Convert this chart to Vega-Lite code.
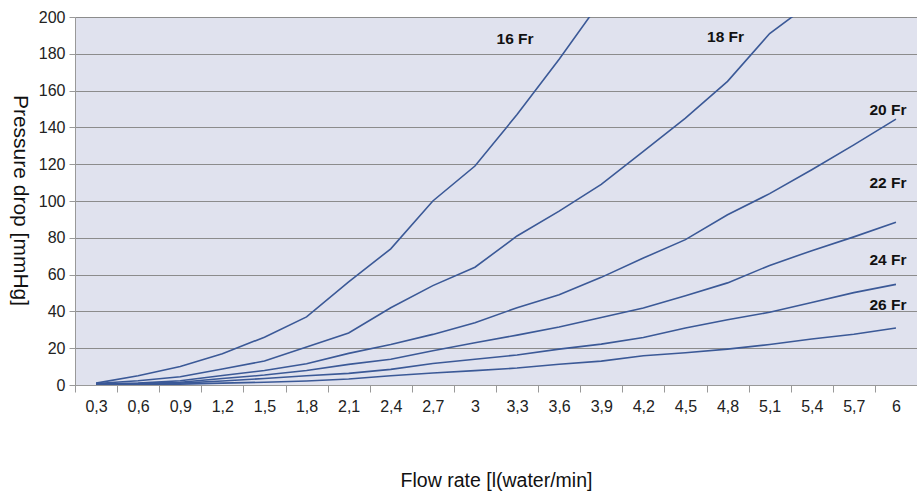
{
  "$schema": "https://vega.github.io/schema/vega-lite/v6.json",
  "autosize": "none",
  "width": 842,
  "height": 368,
  "padding": {"left": 75, "top": 17, "right": 0, "bottom": 108},
  "background": "#ffffff",
  "config": {
    "font": "Liberation Sans",
    "view": {"fill": "#e0e2ee", "stroke": null}
  },
  "datasets": {
    "curves": [
      {"flow": 0.3, "fr": "16 Fr", "p": 1}, {"flow": 0.6, "fr": "16 Fr", "p": 5}, {"flow": 0.9, "fr": "16 Fr", "p": 10}, {"flow": 1.2, "fr": "16 Fr", "p": 17}, {"flow": 1.5, "fr": "16 Fr", "p": 26}, {"flow": 1.8, "fr": "16 Fr", "p": 37}, {"flow": 2.1, "fr": "16 Fr", "p": 56}, {"flow": 2.4, "fr": "16 Fr", "p": 74}, {"flow": 2.7, "fr": "16 Fr", "p": 100}, {"flow": 3, "fr": "16 Fr", "p": 119}, {"flow": 3.3, "fr": "16 Fr", "p": 147}, {"flow": 3.6, "fr": "16 Fr", "p": 177}, {"flow": 3.9, "fr": "16 Fr", "p": 209},
      {"flow": 0.3, "fr": "18 Fr", "p": 0.8}, {"flow": 0.6, "fr": "18 Fr", "p": 2.3}, {"flow": 0.9, "fr": "18 Fr", "p": 4.5}, {"flow": 1.2, "fr": "18 Fr", "p": 8.7}, {"flow": 1.5, "fr": "18 Fr", "p": 13}, {"flow": 1.8, "fr": "18 Fr", "p": 20.6}, {"flow": 2.1, "fr": "18 Fr", "p": 28.3}, {"flow": 2.4, "fr": "18 Fr", "p": 42}, {"flow": 2.7, "fr": "18 Fr", "p": 54}, {"flow": 3, "fr": "18 Fr", "p": 64}, {"flow": 3.3, "fr": "18 Fr", "p": 81}, {"flow": 3.6, "fr": "18 Fr", "p": 94.5}, {"flow": 3.9, "fr": "18 Fr", "p": 109}, {"flow": 4.2, "fr": "18 Fr", "p": 127}, {"flow": 4.5, "fr": "18 Fr", "p": 145}, {"flow": 4.8, "fr": "18 Fr", "p": 165}, {"flow": 5.1, "fr": "18 Fr", "p": 191}, {"flow": 5.4, "fr": "18 Fr", "p": 208},
      {"flow": 0.3, "fr": "20 Fr", "p": 0.5}, {"flow": 0.6, "fr": "20 Fr", "p": 1}, {"flow": 0.9, "fr": "20 Fr", "p": 2.3}, {"flow": 1.2, "fr": "20 Fr", "p": 5.2}, {"flow": 1.5, "fr": "20 Fr", "p": 7.9}, {"flow": 1.8, "fr": "20 Fr", "p": 11.5}, {"flow": 2.1, "fr": "20 Fr", "p": 17.2}, {"flow": 2.4, "fr": "20 Fr", "p": 22}, {"flow": 2.7, "fr": "20 Fr", "p": 27.5}, {"flow": 3, "fr": "20 Fr", "p": 33.8}, {"flow": 3.3, "fr": "20 Fr", "p": 42}, {"flow": 3.6, "fr": "20 Fr", "p": 49}, {"flow": 3.9, "fr": "20 Fr", "p": 58.5}, {"flow": 4.2, "fr": "20 Fr", "p": 69}, {"flow": 4.5, "fr": "20 Fr", "p": 79}, {"flow": 4.8, "fr": "20 Fr", "p": 92.5}, {"flow": 5.1, "fr": "20 Fr", "p": 104}, {"flow": 5.4, "fr": "20 Fr", "p": 117}, {"flow": 5.7, "fr": "20 Fr", "p": 130.5}, {"flow": 6, "fr": "20 Fr", "p": 144.5},
      {"flow": 0.3, "fr": "22 Fr", "p": 0.3}, {"flow": 0.6, "fr": "22 Fr", "p": 0.8}, {"flow": 0.9, "fr": "22 Fr", "p": 1.5}, {"flow": 1.2, "fr": "22 Fr", "p": 3.5}, {"flow": 1.5, "fr": "22 Fr", "p": 5.4}, {"flow": 1.8, "fr": "22 Fr", "p": 7.9}, {"flow": 2.1, "fr": "22 Fr", "p": 11.2}, {"flow": 2.4, "fr": "22 Fr", "p": 14}, {"flow": 2.7, "fr": "22 Fr", "p": 18.6}, {"flow": 3, "fr": "22 Fr", "p": 23}, {"flow": 3.3, "fr": "22 Fr", "p": 27.1}, {"flow": 3.6, "fr": "22 Fr", "p": 31.5}, {"flow": 3.9, "fr": "22 Fr", "p": 36.7}, {"flow": 4.2, "fr": "22 Fr", "p": 41.8}, {"flow": 4.5, "fr": "22 Fr", "p": 48.5}, {"flow": 4.8, "fr": "22 Fr", "p": 55.5}, {"flow": 5.1, "fr": "22 Fr", "p": 65}, {"flow": 5.4, "fr": "22 Fr", "p": 73}, {"flow": 5.7, "fr": "22 Fr", "p": 80.5}, {"flow": 6, "fr": "22 Fr", "p": 88.5},
      {"flow": 0.3, "fr": "24 Fr", "p": 0.2}, {"flow": 0.6, "fr": "24 Fr", "p": 0.6}, {"flow": 0.9, "fr": "24 Fr", "p": 1}, {"flow": 1.2, "fr": "24 Fr", "p": 2.2}, {"flow": 1.5, "fr": "24 Fr", "p": 3.5}, {"flow": 1.8, "fr": "24 Fr", "p": 5}, {"flow": 2.1, "fr": "24 Fr", "p": 6.3}, {"flow": 2.4, "fr": "24 Fr", "p": 8.5}, {"flow": 2.7, "fr": "24 Fr", "p": 11.7}, {"flow": 3, "fr": "24 Fr", "p": 14}, {"flow": 3.3, "fr": "24 Fr", "p": 16.3}, {"flow": 3.6, "fr": "24 Fr", "p": 19.5}, {"flow": 3.9, "fr": "24 Fr", "p": 22.2}, {"flow": 4.2, "fr": "24 Fr", "p": 25.8}, {"flow": 4.5, "fr": "24 Fr", "p": 31}, {"flow": 4.8, "fr": "24 Fr", "p": 35.5}, {"flow": 5.1, "fr": "24 Fr", "p": 39.5}, {"flow": 5.4, "fr": "24 Fr", "p": 44.8}, {"flow": 5.7, "fr": "24 Fr", "p": 50.2}, {"flow": 6, "fr": "24 Fr", "p": 54.7},
      {"flow": 0.3, "fr": "26 Fr", "p": 0.1}, {"flow": 0.6, "fr": "26 Fr", "p": 0.3}, {"flow": 0.9, "fr": "26 Fr", "p": 0.5}, {"flow": 1.2, "fr": "26 Fr", "p": 1}, {"flow": 1.5, "fr": "26 Fr", "p": 1.5}, {"flow": 1.8, "fr": "26 Fr", "p": 2.2}, {"flow": 2.1, "fr": "26 Fr", "p": 3.3}, {"flow": 2.4, "fr": "26 Fr", "p": 5}, {"flow": 2.7, "fr": "26 Fr", "p": 6.5}, {"flow": 3, "fr": "26 Fr", "p": 7.8}, {"flow": 3.3, "fr": "26 Fr", "p": 9.2}, {"flow": 3.6, "fr": "26 Fr", "p": 11.3}, {"flow": 3.9, "fr": "26 Fr", "p": 13}, {"flow": 4.2, "fr": "26 Fr", "p": 15.9}, {"flow": 4.5, "fr": "26 Fr", "p": 17.5}, {"flow": 4.8, "fr": "26 Fr", "p": 19.5}, {"flow": 5.1, "fr": "26 Fr", "p": 22}, {"flow": 5.4, "fr": "26 Fr", "p": 25}, {"flow": 5.7, "fr": "26 Fr", "p": 27.6}, {"flow": 6, "fr": "26 Fr", "p": 31}
    ],
    "labels": [
      {"flow": 3.3, "p": 188, "label": "16 Fr", "grp": "top"},
      {"flow": 4.8, "p": 189, "label": "18 Fr", "grp": "top"},
      {"flow": 6, "p": 149.6, "label": "20 Fr", "grp": "right"},
      {"flow": 6, "p": 110, "label": "22 Fr", "grp": "right"},
      {"flow": 6, "p": 67.8, "label": "24 Fr", "grp": "right"},
      {"flow": 6, "p": 43.4, "label": "26 Fr", "grp": "right"}
    ]
  },
  "encoding": {
    "x": {
      "field": "flow",
      "type": "ordinal",
      "bandPosition": 0.5,
      "scale": {"type": "band", "paddingInner": 0, "paddingOuter": 0, "domain": [0.3, 0.6, 0.9, 1.2, 1.5, 1.8, 2.1, 2.4, 2.7, 3, 3.3, 3.6, 3.9, 4.2, 4.5, 4.8, 5.1, 5.4, 5.7, 6]},
      "axis": {
        "title": "Flow rate [l(water/min]",
        "titleFont": "Liberation Sans",
        "titleFontSize": 19.5,
        "titleFontWeight": "normal",
        "titleColor": "#111111",
        "titlePadding": 57,
        "labelExpr": "replace(datum.label, '.', ',')",
        "labelAngle": 0,
        "labelFontSize": 16,
        "labelColor": "#222222",
        "labelPadding": 6,
        "tickBand": "extent",
        "tickSize": 7,
        "tickColor": "#999999",
        "domainColor": "#999999",
        "grid": false
      }
    },
    "y": {
      "field": "p",
      "type": "quantitative",
      "scale": {"domain": [0, 200], "nice": false},
      "axis": {
        "title": "Pressure drop [mmHg]",
        "titleFont": "Liberation Sans",
        "titleFontSize": 21,
        "titleFontWeight": "normal",
        "titleColor": "#111111",
        "titleAngle": 90,
        "titleX": -56,
        "titleY": 183,
        "titleAlign": "center",
        "titleBaseline": "middle",
        "values": [0, 20, 40, 60, 80, 100, 120, 140, 160, 180, 200],
        "labelFontSize": 16,
        "labelColor": "#222222",
        "labelPadding": 4,
        "tickSize": 6,
        "tickColor": "#999999",
        "domainColor": "#999999",
        "grid": true,
        "gridColor": "#8c8c8c",
        "gridWidth": 1.2
      }
    }
  },
  "layer": [
    {
      "data": {"name": "curves"},
      "mark": {"type": "line", "clip": true, "color": "#3b5997", "strokeWidth": 1.6},
      "encoding": {"detail": {"field": "fr"}}
    },
    {
      "data": {"name": "labels"},
      "transform": [{"filter": "datum.grp === 'top'"}],
      "mark": {"type": "text", "font": "Liberation Sans", "fontWeight": "bold", "fontSize": 15.5, "color": "#111111", "dx": -2},
      "encoding": {"text": {"field": "label"}}
    },
    {
      "data": {"name": "labels"},
      "transform": [{"filter": "datum.grp === 'right'"}],
      "mark": {"type": "text", "font": "Liberation Sans", "fontWeight": "bold", "fontSize": 15.5, "color": "#111111", "dx": -8},
      "encoding": {"text": {"field": "label"}}
    }
  ]
}
